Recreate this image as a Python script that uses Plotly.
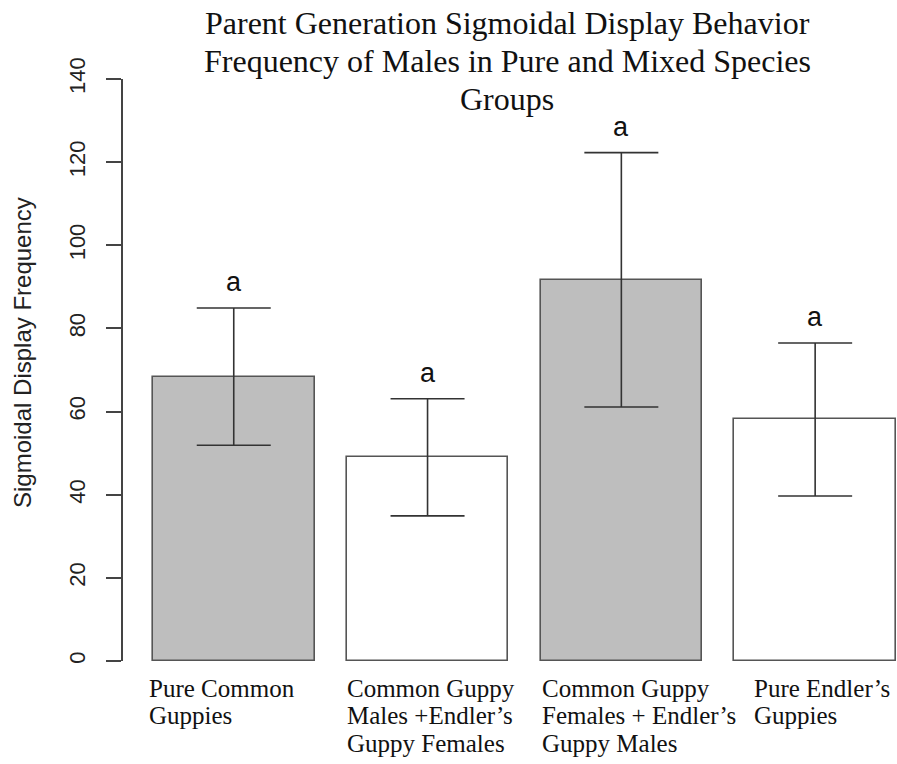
import plotly.graph_objects as go

# ---- data ----
categories = [
    "Pure Common<br>Guppies",
    "Common Guppy<br>Males +Endler’s<br>Guppy Females",
    "Common Guppy<br>Females + Endler’s<br>Guppy Males",
    "Pure Endler’s<br>Guppies",
]
means = [68.4, 49.0, 91.7, 58.1]
errors = [16.5, 14.1, 30.6, 18.4]
sig_letters = ["a", "a", "a", "a"]
fill_colors = ["#bebebe", "#ffffff", "#bebebe", "#ffffff"]
y_ticks = [0, 20, 40, 60, 80, 100, 120, 140]
title_lines = [
    "Parent Generation Sigmoidal Display Behavior",
    "Frequency of Males in Pure and Mixed Species",
    "Groups",
]
y_title = "Sigmoidal Display Frequency"

# ---- layout geometry (R barplot: width 1, space 0.2) ----
W, H = 897, 764
L, R, T, B = 123, 0, 79, 103
bar_w = 1.0
space = 0.2
x_pos = [space + i * (bar_w + space) + bar_w / 2 for i in range(len(means))]
px_per_unit = 161.5
x_lo = space - (L - 93) / px_per_unit  # left edge of plot region
x_hi = x_lo + (W - L - R) / px_per_unit

plot_h = H - T - B


def py(px):
    """pixel row -> paper y"""
    return (H - B - px) / plot_h


def pxx(px):
    """pixel column -> paper x"""
    return (px - L) / (W - L - R)


fig = go.Figure()
fig.add_trace(
    go.Bar(
        x=x_pos,
        y=means,
        width=bar_w,
        marker=dict(color=fill_colors, line=dict(color="#555555", width=1.6)),
        error_y=dict(
            type="data",
            array=errors,
            visible=True,
            color="#333333",
            thickness=1.6,
            width=37,
        ),
        showlegend=False,
        hoverinfo="skip",
    )
)

annotations = []
# significance letters
for x, m, e, s in zip(x_pos, means, errors, sig_letters):
    annotations.append(
        dict(
            x=x, y=m + e, xref="x", yref="y", text=s, showarrow=False,
            yanchor="middle", yshift=26,
            font=dict(family="Liberation Sans", size=27, color="#111111"),
        )
    )

# category labels (left aligned text boxes, one annotation per line)
label_left_px = [147, 345, 540, 752]
line_mid_px = [688, 715.5, 743]
for lx, cat in zip(label_left_px, categories):
    for j, line in enumerate(cat.split("<br>")):
        annotations.append(
            dict(
                x=pxx(lx), y=py(line_mid_px[j]), xref="paper", yref="paper",
                text=line, showarrow=False, xanchor="left", yanchor="middle",
                font=dict(family="Liberation Serif", size=25, color="#111111"),
            )
        )

# title lines
title_mid_px = [23, 61, 99]
for j, line in enumerate(title_lines):
    annotations.append(
        dict(
            x=pxx(507), y=py(title_mid_px[j]), xref="paper", yref="paper",
            text=line, showarrow=False, xanchor="center", yanchor="middle",
            font=dict(family="Liberation Serif", size=32, color="#111111"),
        )
    )

# y axis title
annotations.append(
    dict(
        x=pxx(22), y=py(353), xref="paper", yref="paper", text=y_title,
        showarrow=False, textangle=-90, xanchor="center", yanchor="middle",
        font=dict(family="Liberation Sans", size=24, color="#222222"),
    )
)

fig.update_layout(
    width=W,
    height=H,
    margin=dict(l=L, r=R, t=T, b=B, pad=0),
    paper_bgcolor="white",
    plot_bgcolor="white",
    annotations=annotations,
    bargap=0,
)
fig.update_xaxes(
    range=[x_lo, x_hi], showgrid=False, zeroline=False, showline=False,
    showticklabels=False, ticks="",
)
fig.update_yaxes(
    range=[0, 140], tickvals=y_ticks, ticktext=[str(v) for v in y_ticks],
    showgrid=False, zeroline=False, showline=True, linecolor="#444444",
    linewidth=1.6, ticks="outside", ticklen=15, tickwidth=1.6,
    tickcolor="#444444", tickangle=-90,
    tickfont=dict(family="Liberation Sans", size=22, color="#222222"),
    ticklabelstandoff=12,
)

fig.write_html("out.html")
